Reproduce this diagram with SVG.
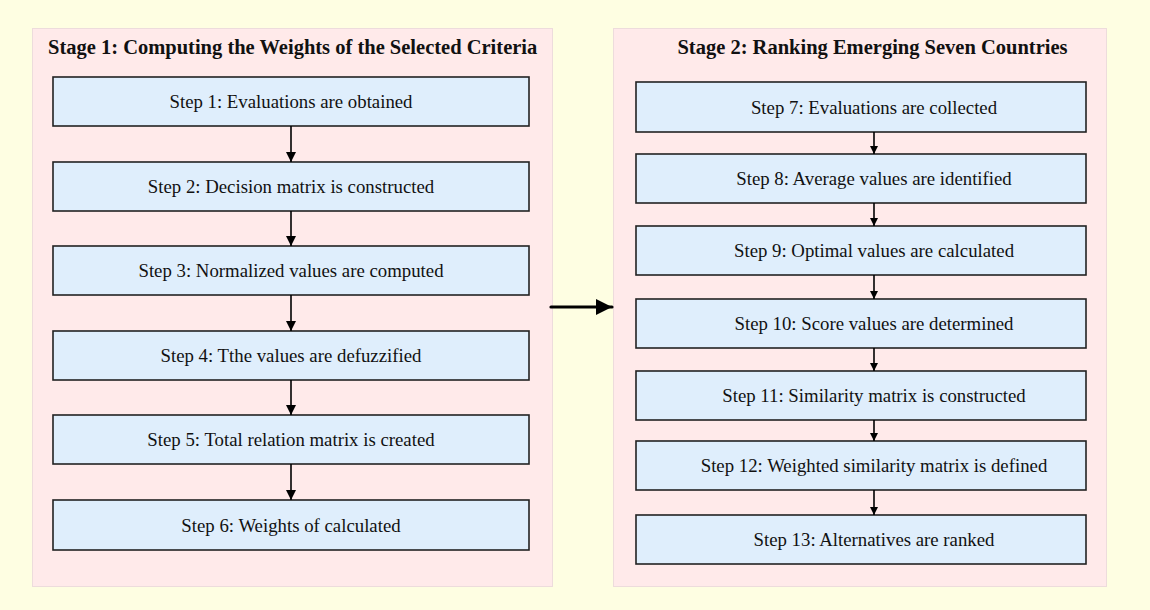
<svg xmlns="http://www.w3.org/2000/svg" width="1150" height="610" viewBox="0 0 1150 610">
<defs>
<style>
.bg{fill:#fefee2}
.cl{fill:#ffeaea;stroke:#eddcdc;stroke-width:1}
.box{fill:#dfeefc;stroke:#222;stroke-width:1.6}
.t{font-family:"Liberation Serif","Times New Roman",serif;font-size:18.8px;fill:#111;text-anchor:middle}
.h{font-family:"Liberation Serif","Times New Roman",serif;font-size:20.5px;font-weight:bold;fill:#111}
.e{stroke:#000;stroke-width:1.6;fill:none}
.big{stroke:#000;stroke-width:3.2;fill:none;stroke-linecap:round}
</style>
<marker id="ah" viewBox="0 0 10 10" refX="10" refY="5" markerWidth="10" markerHeight="10" markerUnits="userSpaceOnUse" orient="auto"><path d="M0,0 L10,5 L0,10 Z" fill="#000"/></marker>
<marker id="ah2" viewBox="0 0 10 10" refX="10" refY="5" markerWidth="8" markerHeight="8" markerUnits="userSpaceOnUse" orient="auto"><path d="M0,0 L10,5 L0,10 Z" fill="#000"/></marker>
<marker id="ahb" viewBox="0 0 10 10" refX="10" refY="5" markerWidth="16" markerHeight="16" markerUnits="userSpaceOnUse" orient="auto"><path d="M0,0 L10,5 L0,10 Z" fill="#000"/></marker>
</defs>
<rect class="bg" x="0" y="0" width="1150" height="610"/>
<g id="stage1">
<rect class="cl" x="32.5" y="28.5" width="520" height="558"/>
<text class="h" x="48" y="54">Stage 1: Computing the Weights of the Selected Criteria</text>
</g>
<g id="stage2">
<rect class="cl" x="613.5" y="28.5" width="493" height="558"/>
<text class="h" x="872.5" y="54" text-anchor="middle">Stage 2: Ranking Emerging Seven Countries</text>
</g>
<g id="s1"><rect class="box" x="53" y="77" width="476" height="49"/><text class="t" x="291" y="108">Step 1: Evaluations are obtained</text></g>
<g id="s2"><rect class="box" x="53" y="162" width="476" height="49"/><text class="t" x="291" y="193">Step 2: Decision matrix is constructed</text></g>
<g id="s3"><rect class="box" x="53" y="246" width="476" height="49"/><text class="t" x="291" y="277">Step 3: Normalized values are computed</text></g>
<g id="s4"><rect class="box" x="53" y="331" width="476" height="49"/><text class="t" x="291" y="362">Step 4: Tthe values are defuzzified</text></g>
<g id="s5"><rect class="box" x="53" y="415" width="476" height="49"/><text class="t" x="291" y="446">Step 5: Total relation matrix is created</text></g>
<g id="s6"><rect class="box" x="53" y="500" width="476" height="50"/><text class="t" x="291" y="532">Step 6: Weights of calculated</text></g>
<g id="s7"><rect class="box" x="636" y="82" width="450" height="50"/><text class="t" x="874" y="114">Step 7: Evaluations are collected</text></g>
<g id="s8"><rect class="box" x="636" y="154" width="450" height="49"/><text class="t" x="874" y="185">Step 8: Average values are identified</text></g>
<g id="s9"><rect class="box" x="636" y="226" width="450" height="49"/><text class="t" x="874" y="257">Step 9: Optimal values are calculated</text></g>
<g id="s10"><rect class="box" x="636" y="299" width="450" height="49"/><text class="t" x="874" y="330">Step 10: Score values are determined</text></g>
<g id="s11"><rect class="box" x="636" y="371" width="450" height="49"/><text class="t" x="874" y="402">Step 11: Similarity matrix is constructed</text></g>
<g id="s12"><rect class="box" x="636" y="441" width="450" height="49"/><text class="t" x="874" y="472">Step 12: Weighted similarity matrix is defined</text></g>
<g id="s13"><rect class="box" x="636" y="515" width="450" height="49"/><text class="t" x="874" y="546">Step 13: Alternatives are ranked</text></g>
<g id="connectors">
<path class="e" d="M291,126 V162" marker-end="url(#ah)"/>
<path class="e" d="M291,211 V246" marker-end="url(#ah)"/>
<path class="e" d="M291,295 V331" marker-end="url(#ah)"/>
<path class="e" d="M291,380 V415" marker-end="url(#ah)"/>
<path class="e" d="M291,464 V500" marker-end="url(#ah)"/>
<path class="e" d="M874,132 V154" marker-end="url(#ah2)"/>
<path class="e" d="M874,203 V226" marker-end="url(#ah2)"/>
<path class="e" d="M874,275 V299" marker-end="url(#ah2)"/>
<path class="e" d="M874,348 V371" marker-end="url(#ah2)"/>
<path class="e" d="M874,420 V441" marker-end="url(#ah2)"/>
<path class="e" d="M874,490 V515" marker-end="url(#ah2)"/>
<path class="big" d="M551,307 H612" marker-end="url(#ahb)"/>
</g>
</svg>
